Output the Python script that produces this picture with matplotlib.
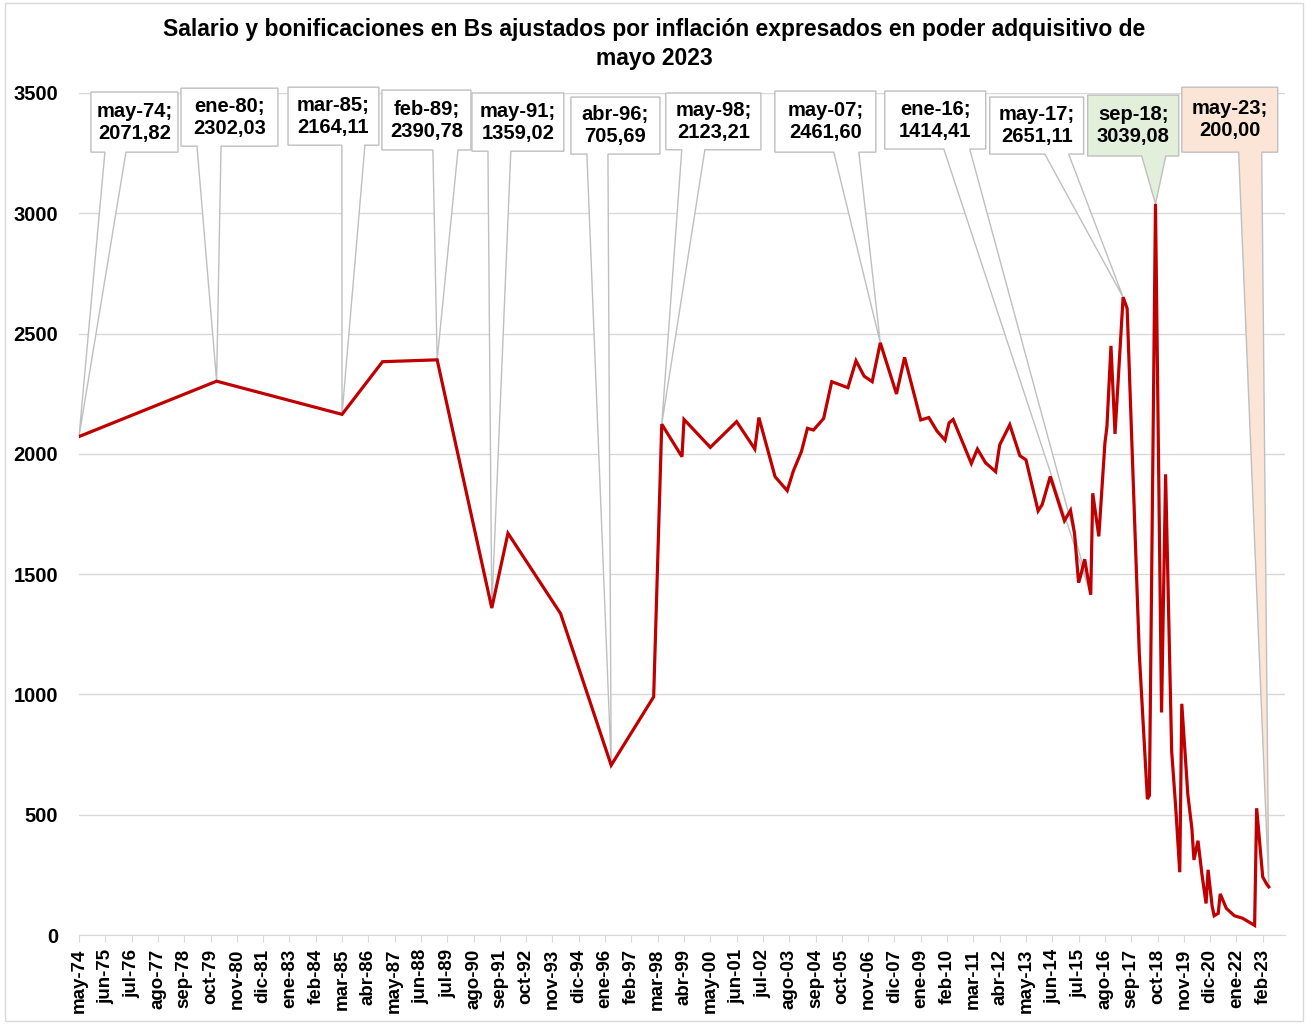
import matplotlib
matplotlib.use("Agg")
import matplotlib.pyplot as plt
from matplotlib.patches import Polygon, Rectangle
import numpy as np

# fuente tipo Arial, todo en negrita como en el original
plt.rcParams['font.family'] = ['Liberation Sans', 'DejaVu Sans']
plt.rcParams['font.weight'] = 'bold'

meses = ["ene", "feb", "mar", "abr", "may", "jun", "jul", "ago", "sep", "oct", "nov", "dic"]

# datos: fecha (año-mes) y salario en Bs de mayo 2023
fechas = ["1974-05", "1980-01", "1985-03", "1986-11", "1989-02", "1991-05", "1992-01",
          "1994-03", "1996-04", "1998-01", "1998-05", "1999-03", "1999-04", "2000-05",
          "2001-06", "2002-03", "2002-05", "2003-01", "2003-07", "2003-10", "2004-02",
          "2004-05", "2004-08", "2005-01", "2005-05", "2006-01", "2006-05", "2006-09",
          "2007-01", "2007-05", "2008-01", "2008-05", "2009-01", "2009-05", "2009-09",
          "2010-01", "2010-03", "2010-05", "2011-02", "2011-05", "2011-09", "2012-02",
          "2012-04", "2012-09", "2013-02", "2013-05", "2013-11", "2014-01", "2014-05",
          "2014-12", "2015-03", "2015-05", "2015-07", "2015-08", "2015-10", "2016-01",
          "2016-02", "2016-05", "2016-08", "2016-09", "2016-11", "2017-01", "2017-05",
          "2017-07", "2018-01", "2018-05", "2018-06", "2018-09", "2018-12", "2019-02",
          "2019-05", "2019-07", "2019-09", "2019-10", "2020-01", "2020-03", "2020-04",
          "2020-06", "2020-08", "2020-10", "2020-11", "2021-01", "2021-02", "2021-04",
          "2021-05", "2021-08", "2021-12", "2022-04", "2022-10", "2022-11", "2023-02",
          "2023-04", "2023-05"]
salario = [2071.82, 2302.03, 2164.11, 2383, 2390.78, 1359.02, 1670,
           1336, 705.69, 990, 2123.21, 1988, 2143, 2027,
           2134, 2020, 2151, 1905, 1847, 1928, 2009,
           2106, 2099, 2147, 2300, 2275, 2387, 2323,
           2300, 2461.60, 2249, 2401, 2141, 2151, 2095,
           2057, 2129, 2143, 1960, 2020, 1963, 1926,
           2037, 2121, 1992, 1975, 1763, 1789, 1906,
           1722, 1765, 1669, 1465, 1493, 1562, 1414.41,
           1836, 1657, 2044, 2112, 2449, 2083, 2651.11,
           2604, 1170, 565, 580, 3039.08, 925, 1915,
           764, 530, 261, 961, 583, 442, 312,
           392, 250, 131, 271, 120, 80, 90,
           171, 111, 80, 70, 40, 527, 241,
           211, 200.00]

# puntos con etiqueta
fechas_etiqueta = ["1974-05", "1980-01", "1985-03", "1989-02", "1991-05", "1996-04",
                   "1998-05", "2007-05", "2016-01", "2017-05", "2018-09", "2023-05"]
# caja de cada etiqueta: izq, der, arriba, abajo, base cuña izq, base cuña der (meses / Bs)
cajas = [(5.9, 48.9, 3504, 3254, 12.8, 23.2),
         (50.4, 98.3, 3520, 3279, 58.3, 70.2),
         (103.3, 148.2, 3524, 3283, 129.9, 141.3),
         (149.7, 193.7, 3512, 3263, 174.9, 187.3),
         (194.2, 239.6, 3500, 3258, 202.1, 213.4),
         (243.1, 287.1, 3483, 3246, 251.0, 261.4),
         (290.0, 337.0, 3500, 3264, 297.9, 309.3),
         (343.9, 393.8, 3508, 3254, 373.0, 385.4),
         (398.2, 448.1, 3508, 3267, 427.4, 440.2),
         (450.1, 496.5, 3483, 3246, 477.3, 489.1),
         (498.5, 543.5, 3491, 3238, 525.2, 537.1),
         (545.0, 592.4, 3524, 3254, 573.1, 584.5)]
relleno = ["white"] * 10 + ["#E2EFDA", "#FBE5D6"]


def mes_idx(f):
    y, m = f.split("-")
    return (int(y) - 1974) * 12 + int(m) - 5


def etiqueta_mes(i):
    y = 1974 + (i + 4) // 12
    m = (i + 4) % 12
    return meses[m] + "-" + str(y)[2:]


x = np.array([mes_idx(f) for f in fechas])
y = np.array(salario)

fig = plt.figure(figsize=(13.08, 10.24), dpi=100)
ax = fig.add_axes([0.0604, 0.0869, 0.9220, 0.8223])

ax.plot(x, y, color="#C00000", lw=2.3, zorder=5, solid_joinstyle="miter")

# etiquetas tipo globo
for f, caja, col in zip(fechas_etiqueta, cajas, relleno):
    i = fechas.index(f)
    px, py = x[i], y[i]
    l, r, t, b, bl, br = caja
    poly = Polygon([(l, t), (r, t), (r, b), (br, b), (px, py), (bl, b), (l, b)],
                   closed=True, facecolor=col, edgecolor="#BFBFBF", lw=1,
                   clip_on=False, zorder=4)
    ax.add_patch(poly)
    txt = etiqueta_mes(mes_idx(f)) + ";\n" + f"{salario[i]:.2f}".replace(".", ",")
    ax.text((l + r) / 2, (t + b) / 2, txt, ha="center", va="center",
            fontsize=14.5, fontweight="bold", linespacing=1.2, zorder=6, clip_on=False)

ax.set_xlim(0, 596)
ax.set_ylim(0, 3500)
ticks_x = np.arange(0, 586, 13)
ax.set_xticks(ticks_x)
ax.set_xticklabels([etiqueta_mes(i) for i in ticks_x], rotation=90,
                   fontsize=13.5, fontweight="bold")
ax.set_yticks(np.arange(0, 3501, 500))
ax.set_yticklabels([str(v) for v in range(0, 3501, 500)], fontsize=14.5, fontweight="bold")

ax.grid(axis="y", color="#D9D9D9", lw=1)
ax.set_axisbelow(True)
for s in ["left", "right", "top"]:
    ax.spines[s].set_visible(False)
ax.spines["bottom"].set_color("#D9D9D9")
ax.tick_params(axis="x", length=5, color="#D9D9D9", pad=5)
ax.tick_params(axis="y", length=0, pad=15)

fig.text(0.5, 0.957, "Salario y bonificaciones en Bs ajustados por inflación expresados en poder adquisitivo de\nmayo 2023",
         ha="center", va="center", fontsize=16.5, fontweight="bold", linespacing=1.3)

# borde del gráfico
fig.patches.append(Rectangle((0.004, 0.003), 0.992, 0.994, transform=fig.transFigure,
                             fill=False, edgecolor="#D9D9D9", lw=1))

plt.savefig("out.png", dpi=100)
